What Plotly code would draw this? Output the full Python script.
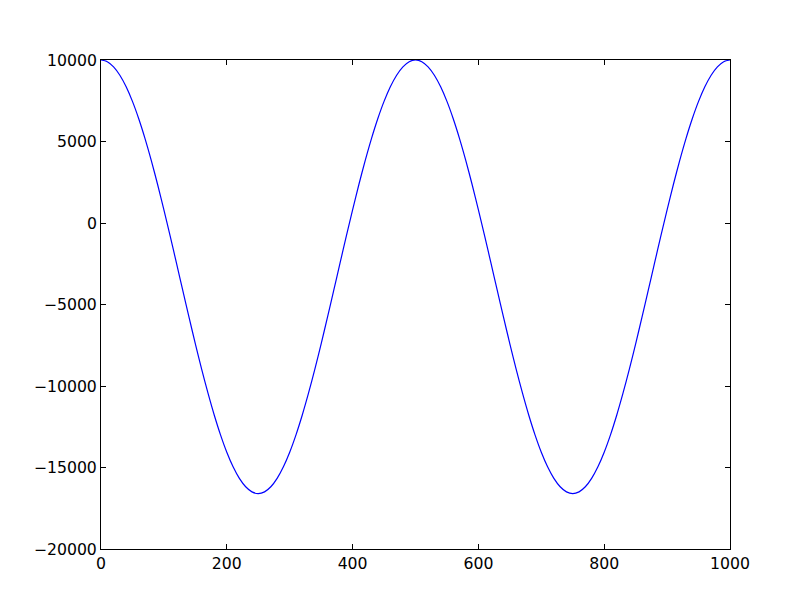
import plotly.graph_objects as go

x_vals = list(range(0, 1001, 10))
y_vals = [10000, 9895, 9582, 9066, 8355, 7460, 6395, 5178, 3827, 2363, 810,
          -808, -2465, -4135, -5792, -7410, -8963, -10427, -11778, -12995, -14060,
          -14955, -15666, -16182, -16495, -16600,
          -16495, -16182, -15666, -14955, -14060, -12995, -11778, -10427, -8963, -7410,
          -5792, -4135, -2465, -808, 810, 2363, 3827, 5178, 6395, 7460,
          8355, 9066, 9582, 9895, 10000,
          9895, 9582, 9066, 8355, 7460, 6395, 5178, 3827, 2363, 810,
          -808, -2465, -4135, -5792, -7410, -8963, -10427, -11778, -12995, -14060,
          -14955, -15666, -16182, -16495, -16600,
          -16495, -16182, -15666, -14955, -14060, -12995, -11778, -10427, -8963, -7410,
          -5792, -4135, -2465, -808, 810, 2363, 3827, 5178, 6395, 7460,
          8355, 9066, 9582, 9895, 10000]
x_ticks = [0, 200, 400, 600, 800, 1000]
y_ticks = [10000, 5000, 0, -5000, -10000, -15000, -20000]

fig = go.Figure()
fig.add_trace(go.Scatter(x=x_vals, y=y_vals, mode="lines",
                         line=dict(color="#0000ff", width=1.2, shape="spline", smoothing=0.8),
                         hoverinfo="skip"))

axis_common = dict(showgrid=False, zeroline=False, showline=True, linecolor="black",
                   linewidth=1, mirror="ticks", ticks="inside", ticklen=5,
                   tickcolor="black", tickwidth=1,
                   tickfont=dict(family="DejaVu Sans", size=15.7, color="black"))

fig.update_layout(
    width=796, height=596,
    margin=dict(l=93, r=74, t=52, b=55),
    paper_bgcolor="white", plot_bgcolor="white",
    showlegend=False,
    xaxis=dict(range=[0, 1000], tickvals=x_ticks, ticktext=[str(v) for v in x_ticks], **axis_common),
    yaxis=dict(range=[-20000, 10000], tickvals=y_ticks,
               ticktext=[str(v).replace("-", "\u2212") for v in y_ticks], **axis_common),
)

fig.write_html("out.html")
